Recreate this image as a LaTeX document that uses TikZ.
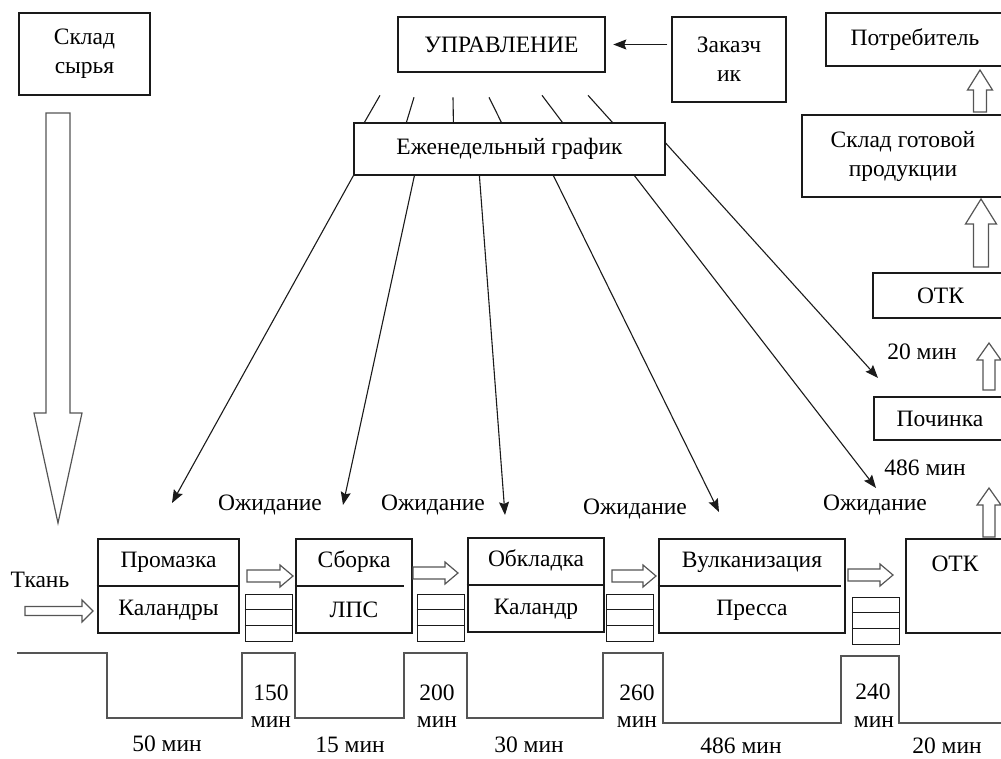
\documentclass[tikz,border=0pt]{standalone}
\usepackage{fontspec}
\setmainfont{Liberation Serif}
\usetikzlibrary{calc,arrows.meta}
\definecolor{ink}{HTML}{1A1A1A}
\definecolor{pipe}{HTML}{555555}
\newcommand{\bigtxt}{\fontsize{23.5}{29}\selectfont}
\tikzset{
  % тонкая рамка
  box/.style={draw=ink, line width=1.2pt, fill=white, inner sep=2pt,
    font=\bigtxt, align=center},
  % жирная рамка (операции, ОТК, управление)
  thickbox/.style={box, line width=2.6pt},
  stackbox/.style={draw=ink, line width=1pt, fill=white,
    minimum width=47pt, minimum height=47pt, inner sep=0pt},
  plan/.style={draw=ink, line width=1.1pt},
  planarr/.style={plan, -{Stealth[length=13pt,width=10pt,inset=2pt]}},
  hollow/.style={draw=pipe, line width=1.2pt, fill=white, line join=miter},
  lbl/.style={font=\bigtxt, inner sep=1pt, align=center},
  timeline/.style={draw=pipe, line width=1.1pt},
}
% Операция: имя, центр, ширина, верх, низ, недотяг разделителя справа
\newcommand{\proc}[6]{%
  \node[thickbox, minimum width=#3pt, minimum height=94pt] (#1) at (#2) {};
  \draw[line width=2pt, draw=ink] (#1.west) -- ($(#1.east)+(-#6,0)$);
  \node[lbl] (#1-top) at ($(#1.center)!.5!(#1.north)$) {#4};
  \node[lbl] (#1-bot) at ($(#1.center)!.5!(#1.south)$) {#5};}
% Запас (три ячейки)
\newcommand{\stack}[2]{%
  \node[stackbox] (#1) at (#2) {};
  \draw[line width=1pt, draw=ink] ($(#1.north west)!1/3!(#1.south west)$) -- ($(#1.north east)!1/3!(#1.south east)$);
  \draw[line width=1pt, draw=ink] ($(#1.north west)!2/3!(#1.south west)$) -- ($(#1.north east)!2/3!(#1.south east)$);}
% Полая стрелка: хвост, поворот, длина, полуширина ствола, полуширина головки, длина головки
\newcommand{\harrow}[6]{%
  \draw[hollow, shift={(#1)}, rotate=#2] (0,#4) -- (#3-#6,#4) -- (#3-#6,#5) -- (#3,0)
    -- (#3-#6,-#5) -- (#3-#6,-#4) -- (0,-#4) -- cycle;}
\newcommand{\plan}[2]{\draw[plan] (#1) -- (#2);}

\begin{document}
\begin{tikzpicture}[x=1pt,y=-1pt]
\useasboundingbox (0,0) rectangle (1001,758);
\clip (0,0) rectangle (1001,758);

% ----- верхний ряд -----
\node[box, minimum width=131pt, minimum height=82pt] (sklad) at (84.5,54) {Склад\\сырья};
\node[thickbox, minimum width=207pt, minimum height=55pt] (upr) at (501.5,44.5) {УПРАВЛЕНИЕ};
\node[box, minimum width=114pt, minimum height=85pt] (zakaz) at (729,59.5) {Заказч\\ик};
\node[box, minimum width=178pt, minimum height=53pt] (potreb) at (915,39.5) {Потребитель};
\draw[planarr, shorten >=7pt, shorten <=4pt] (zakaz.west |- upr.east) -- (upr.east);

% ----- еженедельный график -----
\node[box, minimum width=311pt, minimum height=52pt] (graf) at (509.5,149) {Еженедельный график};
\plan{$(upr.south)+(-121.5,22)$}{$(graf.north west)+(11,0)$}
\plan{$(upr.south)+(-87.5,24)$}{$(graf.north west)+(53,0)$}
\plan{$(upr.south)+(-48.5,24)$}{$(graf.north west)+(100,0)$}
\plan{$(upr.south)+(-12.5,24)$}{$(graf.north west)+(148,0)$}
\plan{$(upr.south)+(40.5,22)$}{$(graf.north west)+(209,0)$}
\plan{$(upr.south)+(86.5,22)$}{$(graf.north west)+(259,0)$}

% концы стрелок графика
\coordinate (t1) at (172,503);
\coordinate (t2) at (343,505);
\coordinate (t3) at (505,515);
\coordinate (t4) at (719,512);
\coordinate (t5) at (876,488);
\coordinate (t6) at (878,378);
\draw[planarr] (graf.south west) -- (t1);
\draw[planarr] ($(graf.south west)+(61,0)$) -- (t2);
\draw[planarr] ($(graf.south west)+(126,0)$) -- (t3);
\draw[planarr] ($(graf.south west)+(200,0)$) -- (t4);
\draw[planarr] ($(graf.south west)+(281,0)$) -- (t5);
\draw[planarr] ($(graf.east)+(0,-6)$) -- (t6);

% ----- правая колонна -----
\node[box, minimum width=202pt, minimum height=82pt] (gotov) at (903,156) {Склад готовой\\продукции};
\node[thickbox, minimum width=135pt, minimum height=45pt] (otkA) at (940.5,295.5) {ОТК};
\node[lbl] (t20) at (922,352) {20 мин};
\node[thickbox, minimum width=132pt, minimum height=43pt] (pochinka) at (940,418.5) {Починка};
\node[lbl] (t486) at (925,468) {486 мин};
\harrow{980,112}{90}{42}{6.5}{12.5}{20}
\harrow{981,267}{90}{68}{7.5}{15.5}{25}
\harrow{989,390}{90}{47}{6}{12}{17}
\harrow{989,537}{90}{49}{6}{12}{17}

% ----- сырьё -----
\harrow{58,113}{-90}{410}{12}{24}{110}
\node[lbl] (tkan) at (40,580) {Ткань};
\harrow{25,611}{0}{68}{4.5}{11}{11}

% ----- операции -----
\proc{prom}{168.5,586}{141}{Промазка}{Каландры}{0}
\proc{sborka}{354,586}{116}{Сборка}{ЛПС}{9}
\proc{obkl}{536,585}{136}{Обкладка}{Каландр}{0}
\proc{vulk}{752,586}{186}{Вулканизация}{Пресса}{5}
\node[thickbox, minimum width=98pt, minimum height=94pt] (otkB) at (955,586) {};
\node[lbl] (otkB-top) at ($(otkB.north)+(0,26)$) {ОТК};

\harrow{247,576}{0}{46}{6}{11}{13}
\harrow{413,573}{0}{45}{6}{11}{13}
\harrow{612,576}{0}{44}{6}{11}{13}
\harrow{848,575}{0}{45}{6}{11}{13}
\stack{zap1}{268.5,617.5}
\stack{zap2}{440.5,617.5}
\stack{zap3}{630,617.5}
\stack{zap4}{875.5,620.5}

\node[lbl] (w1) at (270,505) {Ожидание};
\node[lbl] (w2) at (433,505) {Ожидание};
\node[lbl] (w3) at (635,509) {Ожидание};
\node[lbl] (w4) at (875,505) {Ожидание};

% ----- временная линия -----
\draw[timeline] (17,653) -- (107,653) -- (107,718) -- (242,718) -- (242,653) -- (295,653)
  -- (295,718) -- (404,718) -- (404,653) -- (467,653) -- (467,718) -- (603,718)
  -- (603,653) -- (663,653) -- (663,723) -- (841,723) -- (841,656) -- (899,656)
  -- (899,723) -- (1001,723);
\node[lbl] (q1) at (271,693) {150};
\node[lbl] (q1m) at (271,722) {мин};
\node[lbl] (q2) at (437,693) {200};
\node[lbl] (q2m) at (437,722) {мин};
\node[lbl] (q3) at (637,693) {260};
\node[lbl] (q3m) at (637,722) {мин};
\node[lbl] (q4) at (873,692) {240};
\node[lbl] (q4m) at (874,722) {мин};
\node[lbl] (c1) at (167,744) {50 мин};
\node[lbl] (c2) at (350,745) {15 мин};
\node[lbl] (c3) at (529,745) {30 мин};
\node[lbl] (c4) at (741,746) {486 мин};
\node[lbl] (c5) at (947,746) {20 мин};

\end{tikzpicture}
\end{document}
